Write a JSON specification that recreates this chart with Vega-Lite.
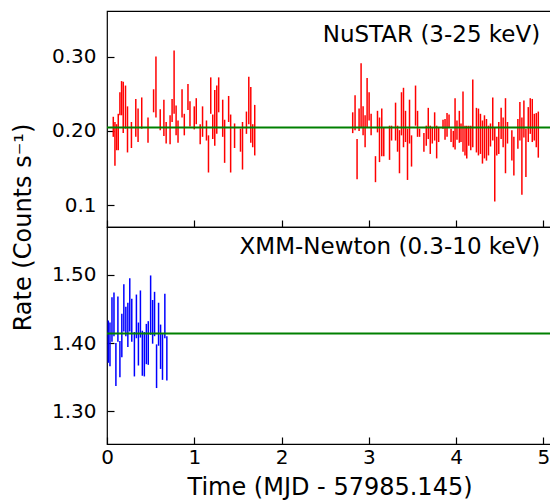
{
  "$schema": "https://vega.github.io/schema/vega-lite/v6.json",
  "autosize": {"type": "pad"},
  "padding": {"left": 10, "top": 10, "right": 0, "bottom": 0},
  "background": "white",
  "spacing": 0,
  "bounds": "flush",
  "config": {
    "font": "DejaVu Sans",
    "view": {"stroke": "#000000", "strokeWidth": 1.2},
    "axis": {
      "domain": false,
      "grid": false,
      "labelFlush": false,
      "tickColor": "#000000",
      "tickSize": -7,
      "tickWidth": 1.2,
      "labelFontSize": 20,
      "labelColor": "#000000",
      "titleFontSize": 24,
      "titleFontWeight": "normal",
      "titleColor": "#000000"
    }
  },
  "datasets": {
    "nustar": [
      {"t":0.072,"hi":0.219,"lo":0.192},{"t":0.091,"hi":0.212,"lo":0.153},{"t":0.110,"hi":0.209,"lo":0.174},{"t":0.129,"hi":0.223,"lo":0.174},{"t":0.148,"hi":0.252,"lo":0.221},{"t":0.167,"hi":0.267,"lo":0.221},{"t":0.186,"hi":0.266,"lo":0.197},{"t":0.212,"hi":0.261,"lo":0.203},{"t":0.235,"hi":0.233,"lo":0.171},{"t":0.280,"hi":0.212,"lo":0.177},{"t":0.330,"hi":0.243,"lo":0.192},{"t":0.356,"hi":0.230,"lo":0.185},{"t":0.398,"hi":0.245,"lo":0.203},{"t":0.470,"hi":0.218,"lo":0.184},{"t":0.534,"hi":0.256,"lo":0.225},{"t":0.561,"hi":0.300,"lo":0.218},{"t":0.610,"hi":0.229,"lo":0.201},{"t":0.652,"hi":0.242,"lo":0.193},{"t":0.678,"hi":0.212,"lo":0.183},{"t":0.723,"hi":0.221,"lo":0.182},{"t":0.746,"hi":0.243,"lo":0.212},{"t":0.769,"hi":0.308,"lo":0.223},{"t":0.792,"hi":0.234,"lo":0.194},{"t":0.814,"hi":0.214,"lo":0.184},{"t":0.860,"hi":0.256,"lo":0.218},{"t":0.886,"hi":0.223,"lo":0.194},{"t":0.928,"hi":0.263,"lo":0.228},{"t":0.951,"hi":0.240,"lo":0.206},{"t":1.000,"hi":0.233,"lo":0.202},{"t":1.023,"hi":0.244,"lo":0.209},{"t":1.068,"hi":0.209,"lo":0.182},{"t":1.095,"hi":0.233,"lo":0.192},{"t":1.140,"hi":0.214,"lo":0.187},{"t":1.163,"hi":0.194,"lo":0.144},{"t":1.189,"hi":0.272,"lo":0.223},{"t":1.212,"hi":0.222,"lo":0.189},{"t":1.235,"hi":0.255,"lo":0.180},{"t":1.258,"hi":0.261,"lo":0.196},{"t":1.280,"hi":0.272,"lo":0.225},{"t":1.326,"hi":0.242,"lo":0.192},{"t":1.348,"hi":0.215,"lo":0.157},{"t":1.394,"hi":0.247,"lo":0.212},{"t":1.417,"hi":0.222,"lo":0.144},{"t":1.462,"hi":0.210,"lo":0.177},{"t":1.530,"hi":0.203,"lo":0.172},{"t":1.553,"hi":0.212,"lo":0.148},{"t":1.598,"hi":0.226,"lo":0.196},{"t":1.625,"hi":0.273,"lo":0.209},{"t":1.648,"hi":0.259,"lo":0.184},{"t":1.670,"hi":0.209,"lo":0.178},{"t":1.693,"hi":0.235,"lo":0.167},
      {"t":2.816,"hi":0.225,"lo":0.197},{"t":2.843,"hi":0.248,"lo":0.201},{"t":2.866,"hi":0.189,"lo":0.135},{"t":2.889,"hi":0.230,"lo":0.200},{"t":2.912,"hi":0.291,"lo":0.205},{"t":2.935,"hi":0.233,"lo":0.194},{"t":2.958,"hi":0.221,"lo":0.178},{"t":2.981,"hi":0.271,"lo":0.205},{"t":3.004,"hi":0.252,"lo":0.214},{"t":3.027,"hi":0.223,"lo":0.194},{"t":3.077,"hi":0.166,"lo":0.131},{"t":3.100,"hi":0.227,"lo":0.198},{"t":3.123,"hi":0.218,"lo":0.158},{"t":3.149,"hi":0.230,"lo":0.166},{"t":3.172,"hi":0.205,"lo":0.166},{"t":3.238,"hi":0.207,"lo":0.161},{"t":3.261,"hi":0.207,"lo":0.187},{"t":3.307,"hi":0.238,"lo":0.187},{"t":3.330,"hi":0.207,"lo":0.172},{"t":3.352,"hi":0.201,"lo":0.143},{"t":3.375,"hi":0.252,"lo":0.194},{"t":3.398,"hi":0.258,"lo":0.178},{"t":3.421,"hi":0.227,"lo":0.185},{"t":3.444,"hi":0.203,"lo":0.134},{"t":3.467,"hi":0.242,"lo":0.183},{"t":3.490,"hi":0.194,"lo":0.152},{"t":3.536,"hi":0.261,"lo":0.207},{"t":3.559,"hi":0.227,"lo":0.192},{"t":3.582,"hi":0.203,"lo":0.192},{"t":3.632,"hi":0.197,"lo":0.172},{"t":3.659,"hi":0.207,"lo":0.180},{"t":3.682,"hi":0.231,"lo":0.189},{"t":3.705,"hi":0.207,"lo":0.169},{"t":3.728,"hi":0.205,"lo":0.183},{"t":3.755,"hi":0.225,"lo":0.187},{"t":3.778,"hi":0.207,"lo":0.163},{"t":3.801,"hi":0.205,"lo":0.185},{"t":3.851,"hi":0.215,"lo":0.203},{"t":3.874,"hi":0.216,"lo":0.188},{"t":3.897,"hi":0.224,"lo":0.192},{"t":3.920,"hi":0.222,"lo":0.204},{"t":3.943,"hi":0.203,"lo":0.185},{"t":3.969,"hi":0.200,"lo":0.178},{"t":3.989,"hi":0.244,"lo":0.175},{"t":4.011,"hi":0.214,"lo":0.188},{"t":4.038,"hi":0.227,"lo":0.184},{"t":4.057,"hi":0.210,"lo":0.185},{"t":4.080,"hi":0.253,"lo":0.172},{"t":4.103,"hi":0.207,"lo":0.167},{"t":4.123,"hi":0.207,"lo":0.163},{"t":4.146,"hi":0.207,"lo":0.180},{"t":4.169,"hi":0.207,"lo":0.174},{"t":4.192,"hi":0.269,"lo":0.178},{"t":4.234,"hi":0.231,"lo":0.171},{"t":4.257,"hi":0.230,"lo":0.167},{"t":4.280,"hi":0.223,"lo":0.169},{"t":4.303,"hi":0.214,"lo":0.156},{"t":4.326,"hi":0.221,"lo":0.163},{"t":4.349,"hi":0.216,"lo":0.160},{"t":4.372,"hi":0.207,"lo":0.167},{"t":4.395,"hi":0.210,"lo":0.179},{"t":4.421,"hi":0.245,"lo":0.187},{"t":4.444,"hi":0.205,"lo":0.105},{"t":4.467,"hi":0.192,"lo":0.167},{"t":4.490,"hi":0.212,"lo":0.169},{"t":4.517,"hi":0.231,"lo":0.189},{"t":4.540,"hi":0.218,"lo":0.178},{"t":4.567,"hi":0.244,"lo":0.143},{"t":4.590,"hi":0.212,"lo":0.183},{"t":4.640,"hi":0.201,"lo":0.160},{"t":4.663,"hi":0.192,"lo":0.140},{"t":4.709,"hi":0.216,"lo":0.176},{"t":4.732,"hi":0.239,"lo":0.187},{"t":4.755,"hi":0.218,"lo":0.114},{"t":4.778,"hi":0.241,"lo":0.191},{"t":4.801,"hi":0.203,"lo":0.138},{"t":4.828,"hi":0.232,"lo":0.185},{"t":4.851,"hi":0.244,"lo":0.196},{"t":4.874,"hi":0.243,"lo":0.185},{"t":4.897,"hi":0.223,"lo":0.187},{"t":4.920,"hi":0.224,"lo":0.178},{"t":4.943,"hi":0.226,"lo":0.164}
    ],
    "xmm": [
      {"t":0.015,"hi":1.433,"lo":1.371},{"t":0.034,"hi":1.430,"lo":1.366},{"t":0.057,"hi":1.467,"lo":1.402},{"t":0.080,"hi":1.474,"lo":1.410},{"t":0.102,"hi":1.400,"lo":1.337},{"t":0.125,"hi":1.468,"lo":1.402},{"t":0.148,"hi":1.403,"lo":1.350},{"t":0.170,"hi":1.443,"lo":1.379},{"t":0.193,"hi":1.486,"lo":1.417},{"t":0.216,"hi":1.453,"lo":1.410},{"t":0.239,"hi":1.459,"lo":1.394},{"t":0.261,"hi":1.495,"lo":1.417},{"t":0.284,"hi":1.465,"lo":1.402},{"t":0.314,"hi":1.416,"lo":1.351},{"t":0.337,"hi":1.471,"lo":1.407},{"t":0.360,"hi":1.430,"lo":1.367},{"t":0.383,"hi":1.477,"lo":1.408},{"t":0.405,"hi":1.418,"lo":1.352},{"t":0.428,"hi":1.416,"lo":1.351},{"t":0.451,"hi":1.428,"lo":1.369},{"t":0.473,"hi":1.432,"lo":1.368},{"t":0.500,"hi":1.499,"lo":1.412},{"t":0.523,"hi":1.463,"lo":1.399},{"t":0.545,"hi":1.475,"lo":1.410},{"t":0.568,"hi":1.398,"lo":1.334},{"t":0.591,"hi":1.459,"lo":1.396},{"t":0.614,"hi":1.427,"lo":1.362},{"t":0.636,"hi":1.413,"lo":1.346},{"t":0.663,"hi":1.472,"lo":1.407},{"t":0.686,"hi":1.410,"lo":1.345}
    ],
    "one": [{}]
  },
  "vconcat": [
    {
      "width": 445,
      "height": 216,
      "layer": [
        {
          "data": {"name": "nustar"},
          "mark": {"type": "rule", "color": "#ff0000", "strokeWidth": 1.5},
          "encoding": {
            "x": {"field": "t", "type": "quantitative", "scale": {"domain": [0, 5.1], "nice": false, "zero": false},
                  "axis": {"values": [0, 1, 2, 3, 4, 5], "labels": false, "title": null}},
            "y": {"field": "lo", "type": "quantitative", "scale": {"domain": [0.0707, 0.3613], "nice": false, "zero": false},
                  "axis": {"values": [0.1, 0.2, 0.3], "labelExpr": "datum.value < 0.15 ? '0.1' : format(datum.value, '.2f')",
                           "labelPadding": 18, "title": "Rate (Counts s⁻¹)", "titleY": 216, "titlePadding": 16}},
            "y2": {"field": "hi"}
          }
        },
        {
          "data": {"name": "one"},
          "mark": {"type": "rule", "color": "#008000", "strokeWidth": 2},
          "encoding": {"y": {"datum": 0.2047, "type": "quantitative"}}
        },
        {
          "data": {"name": "one"},
          "mark": {"type": "text", "align": "right", "baseline": "alphabetic", "fontSize": 23, "color": "#000000"},
          "encoding": {
            "x": {"datum": 4.965, "type": "quantitative"},
            "y": {"datum": 0.3196, "type": "quantitative"},
            "text": {"value": "NuSTAR (3-25 keV)"}
          }
        }
      ]
    },
    {
      "width": 445,
      "height": 217,
      "layer": [
        {
          "data": {"name": "xmm"},
          "mark": {"type": "rule", "color": "#0000ff", "strokeWidth": 1.5},
          "encoding": {
            "x": {"field": "t", "type": "quantitative", "scale": {"domain": [0, 5.1], "nice": false, "zero": false},
                  "axis": {"values": [0, 1, 2, 3, 4, 5], "format": "d", "labelPadding": 10, "title": "Time (MJD - 57985.145)", "titlePadding": 8}},
            "y": {"field": "lo", "type": "quantitative", "scale": {"domain": [1.252, 1.570], "nice": false, "zero": false},
                  "axis": {"values": [1.3, 1.4, 1.5], "format": ".2f", "labelPadding": 18, "title": null}},
            "y2": {"field": "hi"}
          }
        },
        {
          "data": {"name": "one"},
          "mark": {"type": "rule", "color": "#008000", "strokeWidth": 2},
          "encoding": {"y": {"datum": 1.4138, "type": "quantitative"}}
        },
        {
          "data": {"name": "one"},
          "mark": {"type": "text", "align": "right", "baseline": "alphabetic", "fontSize": 23, "color": "#000000"},
          "encoding": {
            "x": {"datum": 4.965, "type": "quantitative"},
            "y": {"datum": 1.530, "type": "quantitative"},
            "text": {"value": "XMM-Newton (0.3-10 keV)"}
          }
        }
      ]
    }
  ]
}
